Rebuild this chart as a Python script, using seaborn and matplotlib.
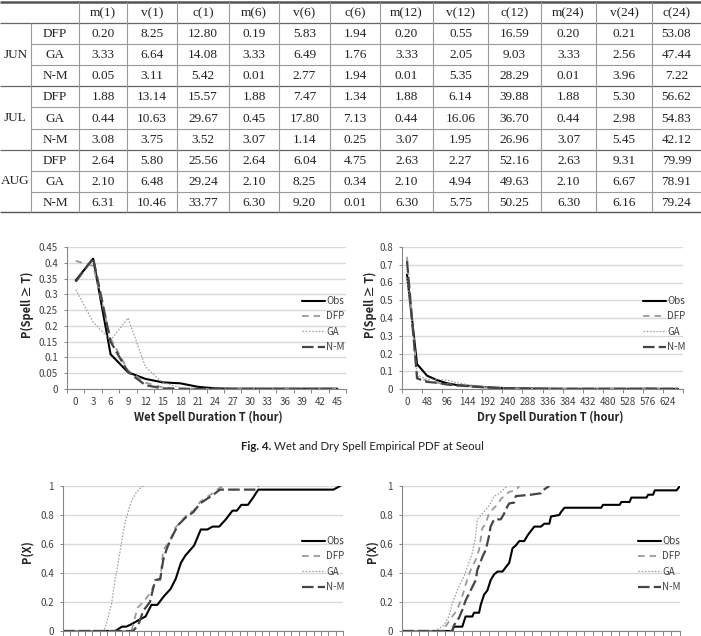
import numpy as np
import pandas as pd
import seaborn as sns
import matplotlib.pyplot as plt
from matplotlib.ticker import FuncFormatter

sns.set_style('white')
plt.rcParams['font.family'] = ['Noto Sans CJK KR', 'DejaVu Sans']

W, H = 701, 636

# ---------------- table data ----------------
col_names = ['m(1)', 'v(1)', 'c(1)', 'm(6)', 'v(6)', 'c(6)',
             'm(12)', 'v(12)', 'c(12)', 'm(24)', 'v(24)', 'c(24)']
months = ['JUN', 'JUL', 'AUG']
methods = ['DFP', 'GA', 'N-M']
jun_vals = [[0.20, 8.25, 12.80, 0.19, 5.83, 1.94, 0.20, 0.55, 16.59, 0.20, 0.21, 53.08],
            [3.33, 6.64, 14.08, 3.33, 6.49, 1.76, 3.33, 2.05, 9.03, 3.33, 2.56, 47.44],
            [0.05, 3.11, 5.42, 0.01, 2.77, 1.94, 0.01, 5.35, 28.29, 0.01, 3.96, 7.22]]
jul_vals = [[1.88, 13.14, 15.57, 1.88, 7.47, 1.34, 1.88, 6.14, 39.88, 1.88, 5.30, 56.62],
            [0.44, 10.63, 29.67, 0.45, 17.80, 7.13, 0.44, 16.06, 36.70, 0.44, 2.98, 54.83],
            [3.08, 3.75, 3.52, 3.07, 1.14, 0.25, 3.07, 1.95, 26.96, 3.07, 5.45, 42.12]]
aug_vals = [[2.64, 5.80, 25.56, 2.64, 6.04, 4.75, 2.63, 2.27, 52.16, 2.63, 9.31, 79.99],
            [2.10, 6.48, 29.24, 2.10, 8.25, 0.34, 2.10, 4.94, 49.63, 2.10, 6.67, 78.91],
            [6.31, 10.46, 33.77, 6.30, 9.20, 0.01, 6.30, 5.75, 50.25, 6.30, 6.16, 79.24]]

# ---------------- spell PDF data ----------------
series = ['Obs', 'DFP', 'GA', 'N-M']
wet_hours = [0, 3, 6, 9, 12, 15, 18, 21, 24, 27, 30, 33, 36, 39, 42, 45]
wet_obs = [0.344, 0.413, 0.110, 0.053, 0.032, 0.021, 0.018, 0.007, 0.002, 0.001, 0.001, 0.001, 0.001, 0.001, 0.001, 0.001]
wet_dfp = [0.406, 0.390, 0.160, 0.059, 0.020, 0.005, 0.002, 0.001, 0.0, 0.0, 0.0, 0.0, 0.0, 0.0, 0.0, 0.0]
wet_ga = [0.315, 0.212, 0.154, 0.225, 0.070, 0.020, 0.005, 0.001, 0.0, 0.0, 0.0, 0.0, 0.0, 0.0, 0.0, 0.0]
wet_nm = [0.340, 0.415, 0.150, 0.054, 0.012, 0.002, 0.0, 0.0, 0.0, 0.0, 0.0, 0.0, 0.0, 0.0, 0.0, 0.0]

dry_hours = [0, 24, 48, 72, 96, 120, 144, 168, 192, 216, 240, 264, 288, 312,
             336, 360, 384, 408, 432, 456, 480, 504, 528, 552, 576, 600, 624, 648]
dry_obs = [0.645, 0.140, 0.075, 0.050, 0.032, 0.022, 0.018, 0.014, 0.010, 0.007, 0.005, 0.004, 0.003, 0.002,
           0.002, 0.001, 0.001, 0.001, 0.001, 0.001, 0.001, 0.001, 0.001, 0.001, 0.002, 0.001, 0.001, 0.001]
dry_dfp = [0.745, 0.070, 0.045, 0.035, 0.028, 0.020, 0.016, 0.012, 0.008, 0.006, 0.004, 0.003, 0.002, 0.002,
           0.001, 0.001, 0.001, 0.001, 0.001, 0.001, 0.001, 0.001, 0.001, 0.001, 0.001, 0.001, 0.001, 0.001]
dry_ga = [0.630, 0.080, 0.055, 0.055, 0.050, 0.035, 0.025, 0.018, 0.012, 0.008, 0.005, 0.004, 0.003, 0.002,
          0.002, 0.001, 0.001, 0.001, 0.001, 0.001, 0.001, 0.001, 0.001, 0.001, 0.001, 0.001, 0.001, 0.001]
dry_nm = [0.720, 0.060, 0.040, 0.035, 0.025, 0.020, 0.016, 0.012, 0.008, 0.006, 0.004, 0.003, 0.002, 0.002,
          0.001, 0.001, 0.001, 0.001, 0.001, 0.001, 0.001, 0.001, 0.001, 0.001, 0.001, 0.001, 0.001, 0.001]

# ---------------- CDF data (vertices on category index) ----------------
cdf1_obs_x = [0, 7.1, 8.0, 8.6, 9.4, 10.3, 11.2, 12.0, 12.8, 13.7, 14.6, 15.3, 16.0, 16.6, 17.8, 18.7, 19.6,
              20.3, 21.2, 22.1, 23.0, 23.6, 24.2, 25.1, 25.8, 26.5, 36.7, 37.6]
cdf1_obs_y = [0, 0, 0.03, 0.03, 0.05, 0.076, 0.10, 0.18, 0.18, 0.24, 0.29, 0.36, 0.47, 0.52, 0.59, 0.70, 0.70,
              0.72, 0.72, 0.77, 0.83, 0.83, 0.87, 0.87, 0.92, 0.975, 0.975, 1.0]
cdf1_dfp_x = [0, 9.3, 10.1, 10.9, 11.8, 12.7, 13.2, 13.6, 14.5, 15.2, 15.9, 17.0, 17.7, 18.6, 19.7, 20.6, 21.3, 22.2]
cdf1_dfp_y = [0, 0, 0.16, 0.20, 0.26, 0.35, 0.35, 0.56, 0.62, 0.71, 0.75, 0.81, 0.83, 0.89, 0.93, 0.96, 0.99, 1.0]
cdf1_ga_x = [0, 5.5, 5.9, 6.6, 7.05, 7.5, 7.96, 8.4, 8.87, 9.32, 10.0, 10.67, 10.9]
cdf1_ga_y = [0, 0, 0.05, 0.19, 0.35, 0.47, 0.62, 0.74, 0.83, 0.90, 0.96, 0.995, 1.0]
cdf1_nm_x = [0, 9.5, 10.2, 10.9, 11.8, 12.5, 13.2, 13.6, 14.1, 14.7, 15.6, 16.8, 17.7, 18.6, 19.5, 20.4, 21.3, 26.2, 26.5]
cdf1_nm_y = [0, 0, 0.04, 0.14, 0.20, 0.35, 0.36, 0.49, 0.57, 0.64, 0.73, 0.79, 0.82, 0.88, 0.91, 0.94, 0.975, 0.975, 1.0]

cdf2_obs_x = [0, 5.78, 5.98, 6.94, 7.32, 8.1, 8.29, 8.87, 9.06, 9.44, 9.83, 10.2, 10.6, 11.0, 11.57, 11.95, 12.34,
              12.72, 13.1, 13.5, 14.07, 14.46, 14.84, 15.23, 16.0, 16.38, 16.96, 17.15, 18.1, 18.3, 18.7, 22.94,
              23.13, 25.06, 25.25, 26.2, 26.4, 28.14, 28.33, 28.9, 29.1, 31.6, 32.0]
cdf2_obs_y = [0, 0, 0.03, 0.03, 0.10, 0.10, 0.126, 0.126, 0.18, 0.25, 0.28, 0.35, 0.39, 0.41, 0.41, 0.44, 0.47,
              0.57, 0.59, 0.62, 0.62, 0.66, 0.69, 0.72, 0.72, 0.74, 0.74, 0.79, 0.80, 0.82, 0.85, 0.85,
              0.87, 0.87, 0.89, 0.89, 0.92, 0.92, 0.94, 0.94, 0.97, 0.97, 1.0]
cdf2_dfp_x = [0, 4.8, 5.0, 5.78, 6.36, 6.94, 7.32, 7.9, 8.48, 8.87, 9.25, 9.64, 10.0, 10.6, 11.0, 11.37, 11.95, 12.34, 13.1, 13.5]
cdf2_dfp_y = [0, 0, 0.03, 0.10, 0.145, 0.24, 0.32, 0.42, 0.49, 0.56, 0.71, 0.74, 0.81, 0.85, 0.87, 0.91, 0.94, 0.96, 0.97, 1.0]
cdf2_ga_x = [0, 3.86, 4.82, 5.4, 5.78, 6.36, 6.75, 7.13, 7.52, 8.1, 8.48, 8.67, 9.25, 9.83, 10.2, 10.6, 11.0, 11.57, 12.14]
cdf2_ga_y = [0, 0, 0.04, 0.10, 0.19, 0.28, 0.33, 0.375, 0.44, 0.54, 0.65, 0.77, 0.81, 0.85, 0.88, 0.93, 0.94, 0.97, 1.0]
cdf2_nm_x = [0, 5.78, 5.98, 6.55, 6.94, 7.32, 7.9, 8.48, 8.67, 9.25, 9.64, 10.0, 10.2, 10.6, 11.37, 11.76, 12.14,
             12.34, 12.9, 13.1, 14.84, 16.0, 16.2, 16.96]
cdf2_nm_y = [0, 0, 0.04, 0.09, 0.145, 0.21, 0.28, 0.35, 0.42, 0.51, 0.56, 0.65, 0.72, 0.77, 0.77, 0.81, 0.86,
             0.88, 0.885, 0.93, 0.94, 0.95, 0.97, 1.0]

colors = {'Obs': '#000000', 'DFP': '#9a9a9a', 'GA': '#a0a0a0', 'N-M': '#454545'}
dashes = {'Obs': '', 'DFP': (3.6, 2.8), 'GA': (1.3, 1.3), 'N-M': (5.2, 1.9)}
widths = {'Obs': 1.5, 'DFP': 1.3, 'GA': 0.9, 'N-M': 1.6}
AX_GRAY = '#868686'
TXT = '#404040'


def px_axes(l, t, r, b):
    return fig.add_axes([l / W, 1 - b / H, (r - l) / W, (b - t) / H])


def long_frame(xs, ys):
    parts = [pd.DataFrame({'x': x, 'p': y, 'model': m}) for m, x, y in zip(series, xs, ys)]
    return pd.concat(parts, ignore_index=True)


def draw(ax, df, ymax, ystep, legend_xy):
    sns.lineplot(data=df, x='x', y='p', hue='model', style='model', size='model',
                 hue_order=series, style_order=series, size_order=series,
                 palette=colors, dashes=dashes, sizes=widths,
                 estimator=None, sort=False, legend=False, ax=ax)
    ax.set_ylim(0, ymax)
    ax.set_yticks(np.arange(0, ymax + ystep / 2, ystep))
    ax.yaxis.set_major_formatter(FuncFormatter(lambda v, p: f'{round(v, 2):g}'))
    ax.yaxis.grid(True, color='#d9d9d9', lw=1.0)
    ax.set_axisbelow(True)
    for s in ['top', 'right']:
        ax.spines[s].set_visible(False)
    for s in ['left', 'bottom']:
        ax.spines[s].set_color(AX_GRAY)
        ax.spines[s].set_linewidth(0.8)
    ax.tick_params(axis='y', direction='out', length=2.5, width=0.7, color=AX_GRAY,
                   labelsize=7, labelcolor=TXT, pad=4, left=True)
    handles = ax.get_lines()[:4]
    ax.legend(handles, series, loc='center left',
              bbox_to_anchor=(legend_xy[0] / W, 1 - legend_xy[1] / H), bbox_transform=fig.transFigure,
              frameon=False, fontsize=7, labelcolor=TXT, handlelength=2.4, handletextpad=0.1,
              labelspacing=0.55, borderpad=0, borderaxespad=0)


fig = plt.figure(figsize=(W / 100, H / 100), dpi=100)

# ---------------- table ----------------
tax = fig.add_axes([0, 1 - 216 / H, 1, 216 / H])
tax.set_xlim(0, W)
tax.set_ylim(216, 0)
tax.axis('off')
col_edges = [0, 31, 79, 127, 177, 229, 279, 330, 380, 433, 488, 541, 596, 652, 701]
row_edges = [2, 23, 44, 65, 86.5, 107.5, 129, 150, 171.5, 192.5, 212.5]
serif = dict(family='Liberation Serif', fontsize=9.5, color='#222222', ha='center', va='center')

centers = [(col_edges[i] + col_edges[i + 1]) / 2 for i in range(len(col_edges) - 1)]
for name, cx in zip(col_names, centers[2:]):
    tax.text(cx, (row_edges[0] + row_edges[1]) / 2 + 0.5, name, **serif)
for g, (month, block) in enumerate(zip(months, [jun_vals, jul_vals, aug_vals])):
    top, bot = row_edges[1 + 3 * g], row_edges[4 + 3 * g]
    tax.text(centers[0], (top + bot) / 2, month, **serif)
    for k, (meth, vals) in enumerate(zip(methods, block)):
        cy = (row_edges[1 + 3 * g + k] + row_edges[2 + 3 * g + k]) / 2 + 0.5
        tax.text(centers[1], cy, meth, **serif)
        for v, cx in zip(vals, centers[2:]):
            tax.text(cx, cy, f'{v:.2f}', **serif)

tax.hlines(row_edges[0], 0, W, color='#555555', lw=1.8)
tax.hlines(row_edges[-1], 0, W, color='#555555', lw=1.0)
for i, y in enumerate(row_edges[1:-1], start=1):
    if (i - 1) % 3 == 0:
        tax.hlines(y, 0, W, color='#666666', lw=0.9)
    else:
        tax.hlines(y, col_edges[1], W, color='#999999', lw=0.8)
tax.vlines(col_edges[1], row_edges[1], row_edges[-1], color='#999999', lw=0.8)
tax.vlines(col_edges[2:-1], row_edges[0], row_edges[-1], color='#999999', lw=0.8)

# ---------------- wet spell ----------------
ax1 = px_axes(67, 247, 346, 389)
wet_df = long_frame([list(range(len(wet_hours)))] * 4, [wet_obs, wet_dfp, wet_ga, wet_nm])
draw(ax1, wet_df, 0.45, 0.05, (302, 324))
ax1.set_xlim(-0.5, len(wet_hours) - 0.5)
ax1.set_xticks(range(len(wet_hours)))
ax1.set_xticklabels([str(h) for h in wet_hours])
ax1.set_xticks(np.arange(-0.5, len(wet_hours), 1), minor=True)
ax1.tick_params(axis='x', which='major', length=0, labelsize=7, labelcolor=TXT, pad=6)
ax1.tick_params(axis='x', which='minor', length=3, width=0.7, color=AX_GRAY, bottom=True)
ax1.set_xlabel('Wet Spell Duration T (hour)', fontsize=8, fontweight='bold', color='#262626', va='center')
ax1.xaxis.set_label_coords(0.508, (389 - 417) / 142)
ax1.set_ylabel('P(Spell ≥ T)', fontsize=8, fontweight='bold', color='#262626', va='center')
ax1.yaxis.set_label_coords((27 - 67) / 279, (389 - 305) / 142)

# ---------------- dry spell ----------------
ax2 = px_axes(402, 247, 683, 389)
dry_df = long_frame([dry_hours] * 4, [dry_obs, dry_dfp, dry_ga, dry_nm])
draw(ax2, dry_df, 0.8, 0.1, (643, 324))
ax2.set_xlim(-12, 660)
ax2.set_xticks(dry_hours[::2])
ax2.set_xticks(np.arange(-12, 661, 48), minor=True)
ax2.tick_params(axis='x', which='major', length=0, labelsize=7, labelcolor=TXT, pad=6)
ax2.tick_params(axis='x', which='minor', length=3, width=0.7, color=AX_GRAY, bottom=True)
ax2.set_xlabel('Dry Spell Duration T (hour)', fontsize=8, fontweight='bold', color='#262626', va='center')
ax2.xaxis.set_label_coords((550 - 402) / 281, (389 - 417) / 142)
ax2.set_ylabel('P(Spell ≥ T)', fontsize=8, fontweight='bold', color='#262626', va='center')
ax2.yaxis.set_label_coords((370 - 402) / 281, (389 - 305) / 142)

# ---------------- caption ----------------
cap_font = ['Lato', 'DejaVu Sans']
fig.text(271 / W, 1 - 446 / H, 'Fig. 4.', ha='right', va='center', fontsize=8.3, fontweight='bold',
         family=cap_font, color='#231f20')
fig.text(274 / W, 1 - 446 / H, 'Wet and Dry Spell Empirical PDF at Seoul', ha='left', va='center',
         fontsize=8.3, family=cap_font, color='#231f20')

# ---------------- CDFs ----------------
ax3 = px_axes(63, 486, 343, 631)
cdf1_df = long_frame([cdf1_obs_x, cdf1_dfp_x, cdf1_ga_x, cdf1_nm_x], [cdf1_obs_y, cdf1_dfp_y, cdf1_ga_y, cdf1_nm_y])
draw(ax3, cdf1_df, 1.0, 0.2, (302, 564))
ax3.set_xlim(0, 38)
ax3.set_ylabel('P(X)', fontsize=8, fontweight='bold', color='#262626', va='center')
ax3.yaxis.set_label_coords((27 - 63) / 280, (631 - 552) / 145)

ax4 = px_axes(402, 486, 680, 631)
cdf2_df = long_frame([cdf2_obs_x, cdf2_dfp_x, cdf2_ga_x, cdf2_nm_x], [cdf2_obs_y, cdf2_dfp_y, cdf2_ga_y, cdf2_nm_y])
draw(ax4, cdf2_df, 1.0, 0.2, (638, 564))
ax4.set_xlim(0, 32)
ax4.set_ylabel('P(X)', fontsize=8, fontweight='bold', color='#262626', va='center')
ax4.yaxis.set_label_coords((372 - 402) / 278, (631 - 552) / 145)

for ax, n in [(ax3, 38), (ax4, 32)]:
    ax.set_xticks(np.arange(0, n + 1, 1))
    ax.set_xticklabels([])
    ax.tick_params(axis='x', length=3.5, width=0.7, color=AX_GRAY, bottom=True)
    ax.set_xlabel('')

fig.savefig('out.png', dpi=100)
